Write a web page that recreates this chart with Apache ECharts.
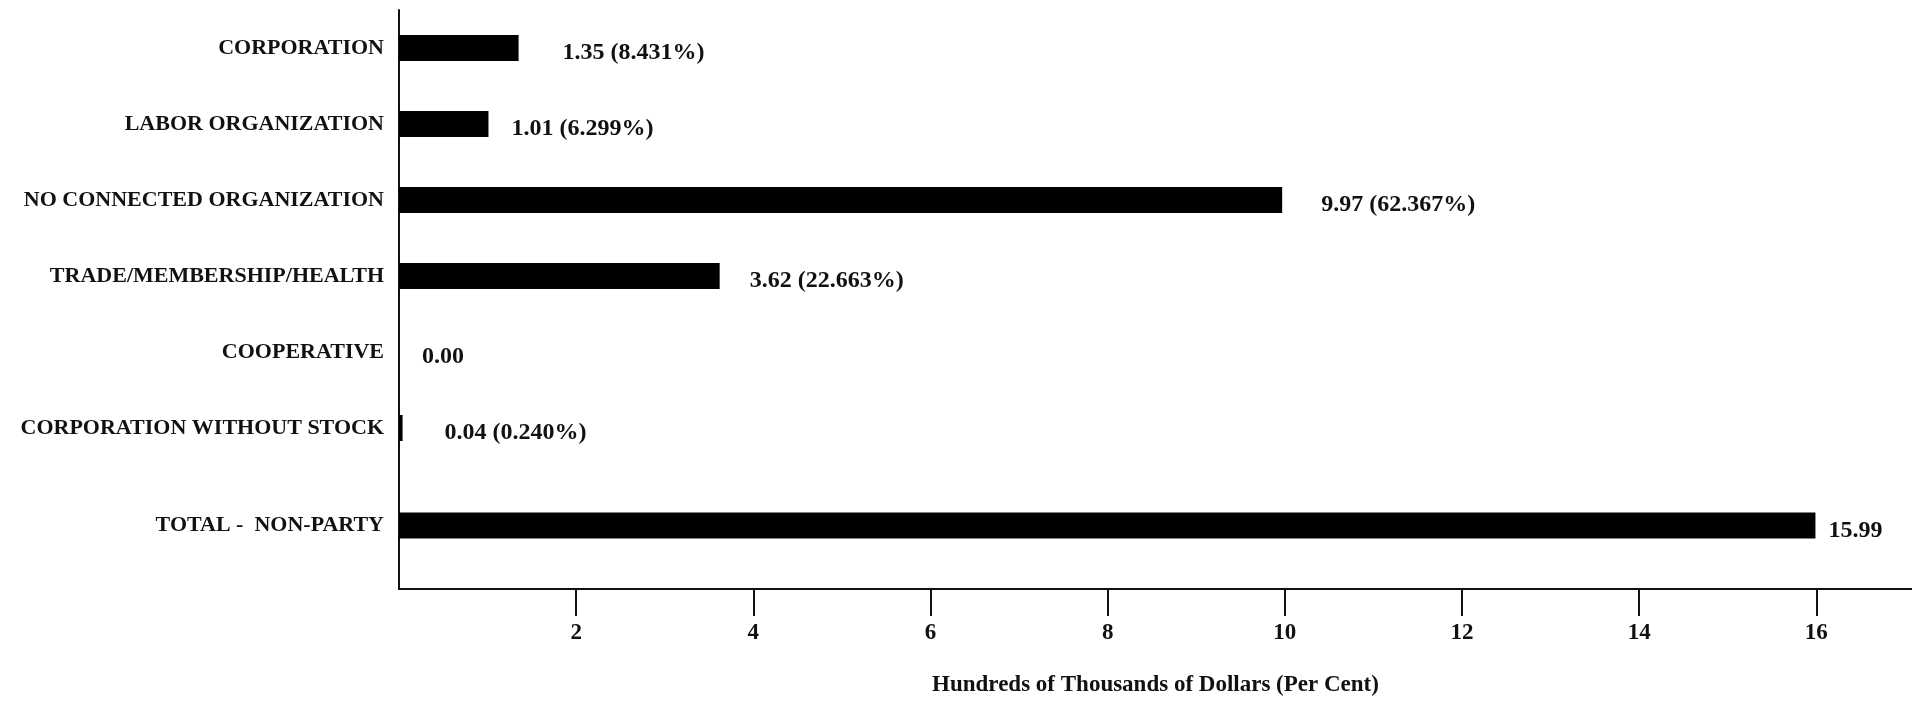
<!DOCTYPE html>
<html>
<head>
<meta charset="utf-8">
<script src="https://cdn.jsdelivr.net/npm/echarts@6/dist/echarts.min.js"></script>
<style>
  html, body { margin: 0; padding: 0; background: #fff; }
  #chart { width: 1912px; height: 703px; }
</style>
</head>
<body>
<div id="chart"></div>
<script>
// ---- data ----
const categories = [
  'CORPORATION',
  'LABOR ORGANIZATION',
  'NO CONNECTED ORGANIZATION',
  'TRADE/MEMBERSHIP/HEALTH',
  'COOPERATIVE',
  'CORPORATION WITHOUT STOCK'
];
const values = [1.35, 1.01, 9.97, 3.62, 0.00, 0.04];
const percents = [8.431, 6.299, 62.367, 22.663, null, 0.240];
const totalCategory = ['TOTAL -  NON-PARTY'];
const totalValue = [15.99];
const xTicks = [2, 4, 6, 8, 10, 12, 14, 16];
const axisTitle = 'Hundreds of Thousands of Dollars (Per Cent)';

// ---- style (not data) ----
const labelGap = [44, 23, 39, 30, 23, 42];
const totalGap = 13;
const FONT = '"Liberation Serif", "Times New Roman", serif';
const X_MAX = 17.08;

function fmt(v, p) {
  return p == null ? v.toFixed(2) : v.toFixed(2) + ' (' + p.toFixed(3) + '%)';
}

const chart = echarts.init(document.getElementById('chart'), null, { renderer: 'canvas' });

const valueLabelStyle = {
  show: true,
  position: 'right',
  color: '#111',
  fontFamily: FONT,
  fontWeight: 'bold',
  fontSize: 24,
  offset: [0, 5]
};

const option = {
  backgroundColor: '#fff',
  animation: false,
  grid: [
    { left: 399, right: 0, top: 10, height: 456, containLabel: false },
    { left: 399, right: 0, top: 462, height: 127, containLabel: false }
  ],
  xAxis: [
    { gridIndex: 0, type: 'value', min: 0, max: X_MAX, interval: 2, show: false, splitLine: { show: false } },
    {
      gridIndex: 1, type: 'value', min: 0, max: X_MAX, interval: 2,
      splitLine: { show: false },
      axisLine: { show: true, lineStyle: { color: '#111', width: 2 } },
      axisTick: { show: true, length: 27, customValues: xTicks, lineStyle: { color: '#111', width: 2 } },
      axisLabel: {
        show: true, customValues: xTicks, margin: 33,
        color: '#111', fontFamily: FONT, fontWeight: 'bold', fontSize: 23
      },
      name: axisTitle,
      nameLocation: 'middle',
      nameGap: 85,
      nameTextStyle: { color: '#111', fontFamily: FONT, fontWeight: 'bold', fontSize: 23 }
    }
  ],
  yAxis: [
    {
      gridIndex: 0, type: 'category', data: categories, inverse: true,
      axisLine: { show: true, lineStyle: { color: '#111', width: 2 } },
      axisTick: { show: false },
      splitLine: { show: false },
      axisLabel: { margin: 15, color: '#111', fontFamily: FONT, fontWeight: 'bold', fontSize: 22 }
    },
    {
      gridIndex: 1, type: 'category', data: totalCategory, inverse: true,
      axisLine: { show: true, lineStyle: { color: '#111', width: 2 } },
      axisTick: { show: false },
      splitLine: { show: false },
      axisLabel: { margin: 15, color: '#111', fontFamily: FONT, fontWeight: 'bold', fontSize: 22 }
    }
  ],
  series: [
    {
      type: 'bar',
      xAxisIndex: 0, yAxisIndex: 0,
      barWidth: 26,
      itemStyle: { color: '#000' },
      data: values.map((v, i) => ({
        value: v,
        label: Object.assign({}, valueLabelStyle, {
          distance: labelGap[i],
          formatter: fmt(v, percents[i])
        })
      }))
    },
    {
      type: 'bar',
      xAxisIndex: 1, yAxisIndex: 1,
      barWidth: 26,
      itemStyle: { color: '#000' },
      data: totalValue.map(v => ({
        value: v,
        label: Object.assign({}, valueLabelStyle, {
          distance: totalGap,
          formatter: v.toFixed(2)
        })
      }))
    }
  ]
};

chart.setOption(option);
</script>
</body>
</html>
